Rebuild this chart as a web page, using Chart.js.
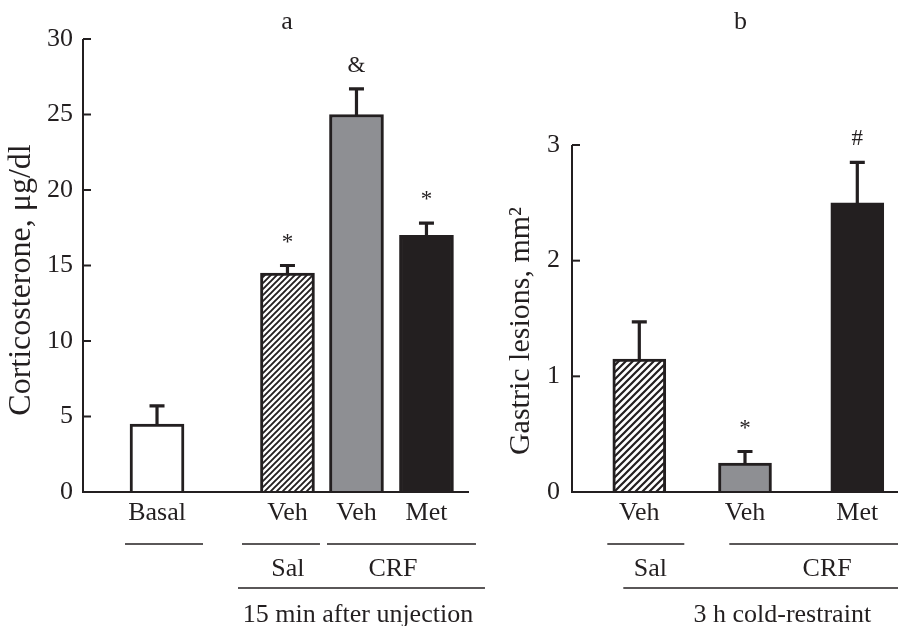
<!DOCTYPE html>
<html><head><meta charset="utf-8">
<script src="https://cdn.jsdelivr.net/npm/chart.js@4.4.1/dist/chart.umd.min.js"></script>
<style>
html,body{margin:0;padding:0;background:#fff;}
#wrap{position:relative;width:898px;height:626px;overflow:hidden;background:#fff;}
canvas{position:absolute;top:0;}
#ca{left:0;} #cb{left:490px;}
</style></head><body>
<div id="wrap"><canvas id="ca" width="490" height="626"></canvas><canvas id="cb" width="408" height="626"></canvas></div>
<script>
// ---- Panel a data ----
const categoriesA = ['Basal', 'Veh', 'Veh', 'Met'];
const corticosterone = [4.5, 14.5, 25.0, 17.0];
const corticosteroneSEM = [1.2, 0.5, 1.7, 0.8];
const marksA = ['', '*', '&', '*'];
const ticksA = [0, 5, 10, 15, 20, 25, 30];
const titleA = 'Corticosterone, μg/dl';
const groupsA = ['Sal', 'CRF'];
const captionA = '15 min after unjection';

// ---- Panel b data ----
const categoriesB = ['Veh', 'Veh', 'Met'];
const lesions = [1.15, 0.25, 2.5];
const lesionsSEM = [0.32, 0.10, 0.35];
const marksB = ['', '*', '#'];
const ticksB = [0, 1, 2, 3];
const titleB = 'Gastric lesions, mm²';
const groupsB = ['Sal', 'CRF'];
const captionB = '3 h cold-restraint';

// ---- styling / layout ----
const INK = '#231f20';
const GRAY = '#8e8f93';
const FONT = "'Liberation Serif', 'Times New Roman', serif";
Chart.defaults.font.family = FONT;
Chart.defaults.color = INK;
Chart.defaults.animation = false;

function hatchPattern(ctx, n, w) {
  const c = document.createElement('canvas'); c.width = n; c.height = n;
  const g = c.getContext('2d');
  g.fillStyle = '#fff'; g.fillRect(0, 0, n, n);
  g.strokeStyle = INK; g.lineWidth = w;
  g.beginPath();
  g.moveTo(-1, n + 1); g.lineTo(n + 1, -1);
  g.moveTo(-1, 1); g.lineTo(1, -1);
  g.moveTo(n - 1, n + 1); g.lineTo(n + 1, n - 1);
  g.stroke();
  return ctx.createPattern(c, 'repeat');
}

function makeDeco(cfg) {
  return {
    id: 'deco',
    afterDatasetsDraw(chart) {
      const ctx = chart.ctx, ca = chart.chartArea, y = chart.scales.y;
      const meta = chart.getDatasetMeta(0);
      const bx = i => meta.data[i].x;
      const W = chart.width;
      const px = s => s.edge ? W : (s.mid ? (bx(s.mid[0]) + bx(s.mid[1])) / 2 : bx(s.bar)) + (s.dx || 0);
      ctx.save();
      ctx.strokeStyle = INK; ctx.fillStyle = INK;
      // axes
      ctx.lineWidth = 2;
      ctx.beginPath();
      ctx.moveTo(ca.left, ca.top); ctx.lineTo(ca.left, ca.bottom); ctx.lineTo(ca.right, ca.bottom);
      ctx.stroke();
      y.ticks.forEach(t => {
        const py = y.getPixelForValue(t.value);
        ctx.beginPath(); ctx.moveTo(ca.left, py); ctx.lineTo(ca.left + 8, py); ctx.stroke();
      });
      // error bars + marks
      ctx.lineWidth = 3.2;
      cfg.values.forEach((v, i) => {
        const x = bx(i), y0 = y.getPixelForValue(v), y1 = y.getPixelForValue(v + cfg.errors[i]);
        ctx.beginPath();
        ctx.moveTo(x, y0 + 1); ctx.lineTo(x, y1);
        ctx.moveTo(x - 7.5, y1); ctx.lineTo(x + 7.5, y1);
        ctx.stroke();
        if (cfg.marks[i]) {
          ctx.font = '23px ' + FONT; ctx.textAlign = 'center'; ctx.textBaseline = 'alphabetic';
          ctx.fillText(cfg.marks[i], x, y1 - 17);
        }
      });
      // group lines
      ctx.lineWidth = 1.3;
      cfg.lines.forEach(l => {
        ctx.beginPath(); ctx.moveTo(px(l.a), l.y); ctx.lineTo(px(l.b), l.y); ctx.stroke();
      });
      ctx.font = '26px ' + FONT; ctx.textAlign = 'center'; ctx.textBaseline = 'alphabetic';
      cfg.labels.forEach(t => ctx.fillText(t.text, px(t.at), t.y));
      // panel letter
      ctx.fillText(cfg.letter, bx(1) - cfg.letterDx, 29);
      // y title
      ctx.save();
      ctx.translate(cfg.titleX, cfg.titleY); ctx.rotate(-Math.PI / 2);
      ctx.font = cfg.titleSize + 'px ' + FONT; ctx.textBaseline = 'middle';
      ctx.fillText(cfg.title, 0, 0);
      ctx.restore();
      ctx.restore();
    }
  };
}

function tickFromArray(arr) { return s => { s.ticks = arr.map(v => ({ value: v })); }; }

// ---- Panel a ----
const ctxA = document.getElementById('ca').getContext('2d');
const slotsA = [1.065, 2.942, 3.935, 4.942];
new Chart(ctxA, {
  type: 'bar',
  data: {
    datasets: [{
      data: corticosterone.map((v, i) => ({ x: slotsA[i], y: v })),
      backgroundColor: ['#ffffff', hatchPattern(ctxA, 6, 1.9), GRAY, INK],
      borderColor: INK, borderWidth: 3, barThickness: 54
    }]
  },
  options: {
    responsive: false, animation: false,
    layout: { padding: { top: 39, right: 21, left: 0, bottom: 0 } },
    plugins: { legend: { display: false }, tooltip: { enabled: false } },
    scales: {
      x: {
        type: 'linear', min: 0, max: 5.554, offset: false,
        grid: { display: false, drawTicks: false }, border: { display: false },
        afterBuildTicks: tickFromArray(slotsA),
        afterFit: s => { s.height = 134; },
        ticks: { autoSkip: false, maxRotation: 0, minRotation: 0, padding: 6,
          font: { size: 26 }, callback: (v, i) => categoriesA[i] }
      },
      y: {
        min: 0, max: 30,
        grid: { display: false, drawTicks: false }, border: { display: false },
        afterBuildTicks: tickFromArray(ticksA),
        afterFit: s => { s.width = 83; },
        ticks: { padding: 10, font: { size: 26 } }
      }
    }
  },
  plugins: [makeDeco({
    values: corticosterone, errors: corticosteroneSEM, marks: marksA,
    letter: 'a', letterDx: 0.5, title: titleA, titleSize: 32, titleX: 22, titleY: 280,
    lines: [
      { y: 544, a: { bar: 0, dx: -32 }, b: { bar: 0, dx: 46 } },
      { y: 544, a: { bar: 1, dx: -45.5 }, b: { bar: 1, dx: 32.5 } },
      { y: 544, a: { bar: 2, dx: -29.5 }, b: { bar: 3, dx: 49.5 } },
      { y: 588, a: { bar: 1, dx: -49.5 }, b: { bar: 3, dx: 58.5 } }
    ],
    labels: [
      { text: groupsA[0], y: 576, at: { bar: 1, dx: 0.5 } },
      { text: groupsA[1], y: 576, at: { mid: [2, 3], dx: 1.5 } },
      { text: captionA, y: 622, at: { mid: [1, 3], dx: 1 } }
    ]
  })]
});

// ---- Panel b ----
const ctxB = document.getElementById('cb').getContext('2d');
const slotsB = [0.673, 1.73, 2.853];
new Chart(ctxB, {
  type: 'bar',
  data: {
    datasets: [{
      data: lesions.map((v, i) => ({ x: slotsB[i], y: v })),
      backgroundColor: [hatchPattern(ctxB, 7, 2.2), GRAY, INK],
      borderColor: INK, borderWidth: 3, barThickness: 53
    }]
  },
  options: {
    responsive: false, animation: false,
    layout: { padding: { top: 145, right: 0, left: 0, bottom: 0 } },
    plugins: { legend: { display: false }, tooltip: { enabled: false } },
    scales: {
      x: {
        type: 'linear', min: 0, max: 3.26, offset: false,
        grid: { display: false, drawTicks: false }, border: { display: false },
        afterBuildTicks: tickFromArray(slotsB),
        afterFit: s => { s.height = 134; },
        ticks: { autoSkip: false, maxRotation: 0, minRotation: 0, padding: 6,
          font: { size: 26 }, callback: (v, i) => categoriesB[i] }
      },
      y: {
        min: 0, max: 3,
        grid: { display: false, drawTicks: false }, border: { display: false },
        afterBuildTicks: tickFromArray(ticksB),
        afterFit: s => { s.width = 82; },
        ticks: { padding: 12, font: { size: 26 } }
      }
    }
  },
  plugins: [makeDeco({
    values: lesions, errors: lesionsSEM, marks: marksB,
    letter: 'b', letterDx: 4.5, title: titleB, titleSize: 30, titleX: 31, titleY: 331,
    lines: [
      { y: 544, a: { bar: 0, dx: -32 }, b: { bar: 0, dx: 45 } },
      { y: 544, a: { bar: 1, dx: -15.7 }, b: { edge: true } },
      { y: 588, a: { bar: 0, dx: -16 }, b: { edge: true } }
    ],
    labels: [
      { text: groupsB[0], y: 576, at: { bar: 0, dx: 11 } },
      { text: groupsB[1], y: 576, at: { mid: [1, 2], dx: 26 } },
      { text: captionB, y: 622, at: { mid: [0, 2], dx: 34 } }
    ]
  })]
});
</script>
</body></html>
